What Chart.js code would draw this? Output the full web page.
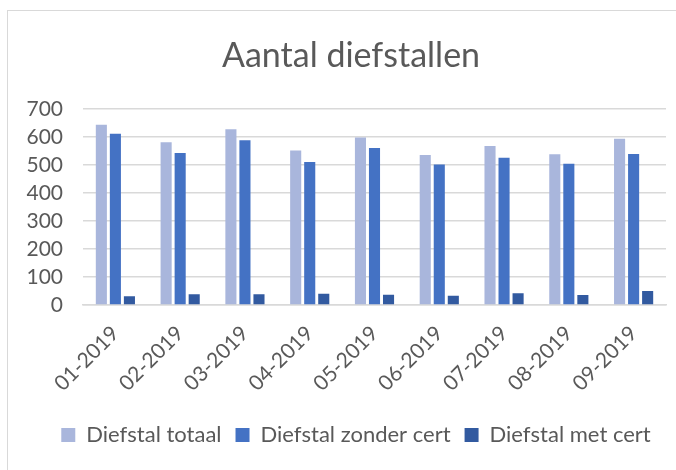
<!DOCTYPE html>
<html>
<head>
<meta charset="utf-8">
<script src="https://cdn.jsdelivr.net/npm/chart.js@4.4.0/dist/chart.umd.min.js"></script>
<style>
    body { margin: 0; background: #fff; }
    .wrap { position: relative; width: 676px; height: 470px; }
    .frame {
        position: absolute; left: 7px; top: 10px; width: 700px; height: 500px;
        border-left: 1px solid #d9d9d9; border-top: 1px solid #d9d9d9;
        pointer-events: none;
    }
</style>
</head>
<body>
<div class="wrap">
    <canvas id="chartDiefstal" width="676" height="470"></canvas>
    <div class="frame"></div>
</div>
<script>
// Datos
const maanden = ['01-2019', '02-2019', '03-2019', '04-2019', '05-2019', '06-2019', '07-2019', '08-2019', '09-2019'];
const diefstalTotaal = [643, 581, 627, 551, 598, 535, 567, 538, 593];
const diefstalZonderCert = [611, 542, 588, 510, 560, 501, 525, 504, 539];
const diefstalMetCert = [31, 38, 38, 40, 37, 33, 42, 36, 50];
const yTicks = [0, 100, 200, 300, 400, 500, 600, 700];

const tekstKleur = '#595959';
const fuente = 'Lato, "Open Sans", sans-serif';

// Desplazar titulo y leyenda un poco a la derecha, como en el original
const desplazar = {
    id: 'desplazar',
    afterLayout(chart) {
        chart.legend.left += 16;
        chart.legend.right += 16;
        chart.titleBlock.left += 11;
        chart.titleBlock.right += 11;
    }
};

const ctx = document.getElementById('chartDiefstal');
new Chart(ctx, {
    type: 'bar',
    data: {
        labels: maanden,
        datasets: [
            { label: 'Diefstal totaal', data: diefstalTotaal, backgroundColor: '#a9b6dc' },
            { label: 'Diefstal zonder cert', data: diefstalZonderCert, backgroundColor: '#4472c4' },
            { label: 'Diefstal met cert', data: diefstalMetCert, backgroundColor: '#325aa0' }
        ]
    },
    options: {
        responsive: false,
        animation: false,
        layout: { padding: { left: 14, right: 10, top: 36, bottom: 14 } },
        datasets: {
            bar: { categoryPercentage: 0.65, barPercentage: 0.79 }
        },
        plugins: {
            title: {
                display: true,
                text: 'Aantal diefstallen',
                color: tekstKleur,
                font: { family: fuente, size: 34, weight: 'normal' },
                padding: { top: 0, bottom: 32 }
            },
            legend: {
                position: 'bottom',
                labels: {
                    color: tekstKleur,
                    font: { family: fuente, size: 22 },
                    boxWidth: 14,
                    boxHeight: 14,
                    padding: 14
                }
            },
            tooltip: { enabled: false }
        },
        scales: {
            y: {
                min: 0,
                max: 700,
                afterBuildTicks: axis => { axis.ticks = yTicks.map(v => ({ value: v })); },
                afterFit: axis => { axis.width = 69; },
                grid: { color: '#d9d9d9', lineWidth: 1.5, drawTicks: false },
                border: { display: false },
                ticks: {
                    autoSkip: false,
                    color: tekstKleur,
                    font: { family: fuente, size: 21 },
                    padding: 20
                }
            },
            x: {
                afterFit: axis => { axis.height = 105; },
                grid: { display: false },
                border: { color: '#d9d9d9', width: 1.5 },
                ticks: {
                    autoSkip: false,
                    color: tekstKleur,
                    font: { family: fuente, size: 21 },
                    minRotation: 45,
                    maxRotation: 45,
                    padding: 8
                }
            }
        }
    },
    plugins: [desplazar]
});
</script>
</body>
</html>
